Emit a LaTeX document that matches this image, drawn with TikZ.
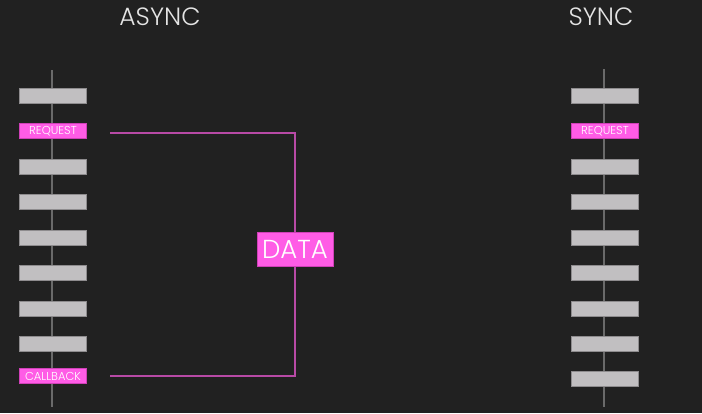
\documentclass[tikz,border=0pt]{standalone}
\usepackage{fontspec}
\setmainfont{Poppins Light}
\begin{document}
\begin{tikzpicture}[x=1pt,y=-1pt,
  slot/.style={fill=slotc,draw=slotb,line width=0.6pt,minimum width=67pt,minimum height=15pt,inner sep=0pt},
  pinkslot/.style={fill=pinkc,draw=pinkb,line width=0.6pt,minimum width=67pt,minimum height=15pt,inner sep=0pt,text=white,font=\fontsize{11.5}{11.5}\selectfont},
  title/.style={text=titlec,font=\fontsize{25}{25}\selectfont},
  axis/.style={draw=axisc,line width=1.2pt},
  link/.style={draw=linkc,line width=1.3pt}]
\definecolor{bgc}{HTML}{212121}
\definecolor{slotc}{HTML}{C1BFC1}
\definecolor{slotb}{HTML}{8E8C8E}
\definecolor{pinkc}{HTML}{FF5CE6}
\definecolor{pinkb}{HTML}{D040B8}
\definecolor{titlec}{HTML}{E4E4E4}
\definecolor{axisc}{HTML}{6A6A6A}
\definecolor{linkc}{HTML}{B84AA6}
\fill[bgc] (0,0) rectangle (702,413);
\useasboundingbox (0,0) rectangle (702,413);
\node[title] (async) at (160,17) {ASYNC};
\node[title] (sync) at (601,17) {SYNC};
% axes
\coordinate (at) at (52,70); \coordinate (ab) at (52,407);
\coordinate (st) at (604,69); \coordinate (sb) at (604,407);
\draw[axis] (at) -- (ab);
\draw[axis] (st) -- (sb);
% async slots
\node[slot] (a1) at (53,96) {};
\node[pinkslot] (req) at (53,131) {REQUEST};
\node[slot] (a3) at (53,167) {};
\node[slot] (a4) at (53,202) {};
\node[slot] (a5) at (53,238) {};
\node[slot] (a6) at (53,273) {};
\node[slot] (a7) at (53,309) {};
\node[slot] (a8) at (53,344) {};
\node[pinkslot] (cb) at (53,376) {CALLBACK};
% sync slots
\node[slot] (s1) at (605,96) {};
\node[pinkslot] (sreq) at (605,131) {REQUEST};
\node[slot] (s3) at (605,167) {};
\node[slot] (s4) at (605,202) {};
\node[slot] (s5) at (605,238) {};
\node[slot] (s6) at (605,273) {};
\node[slot] (s7) at (605,309) {};
\node[slot] (s8) at (605,344) {};
\node[slot] (s9) at (605,379) {};
% connector
\coordinate (l1) at (110,133);
\coordinate (c1) at (295,133);
\coordinate (c2) at (295,376);
\coordinate (l2) at (110,376);
\draw[link] (l1) -- (c1) -- (c2) -- (l2);
\node[fill=pinkc,draw=pinkb,line width=0.6pt,minimum width=76pt,minimum height=34pt,inner sep=0pt,text=white,font=\fontsize{26}{26}\selectfont] (data) at (295,249) {DATA};
\end{tikzpicture}
\end{document}
